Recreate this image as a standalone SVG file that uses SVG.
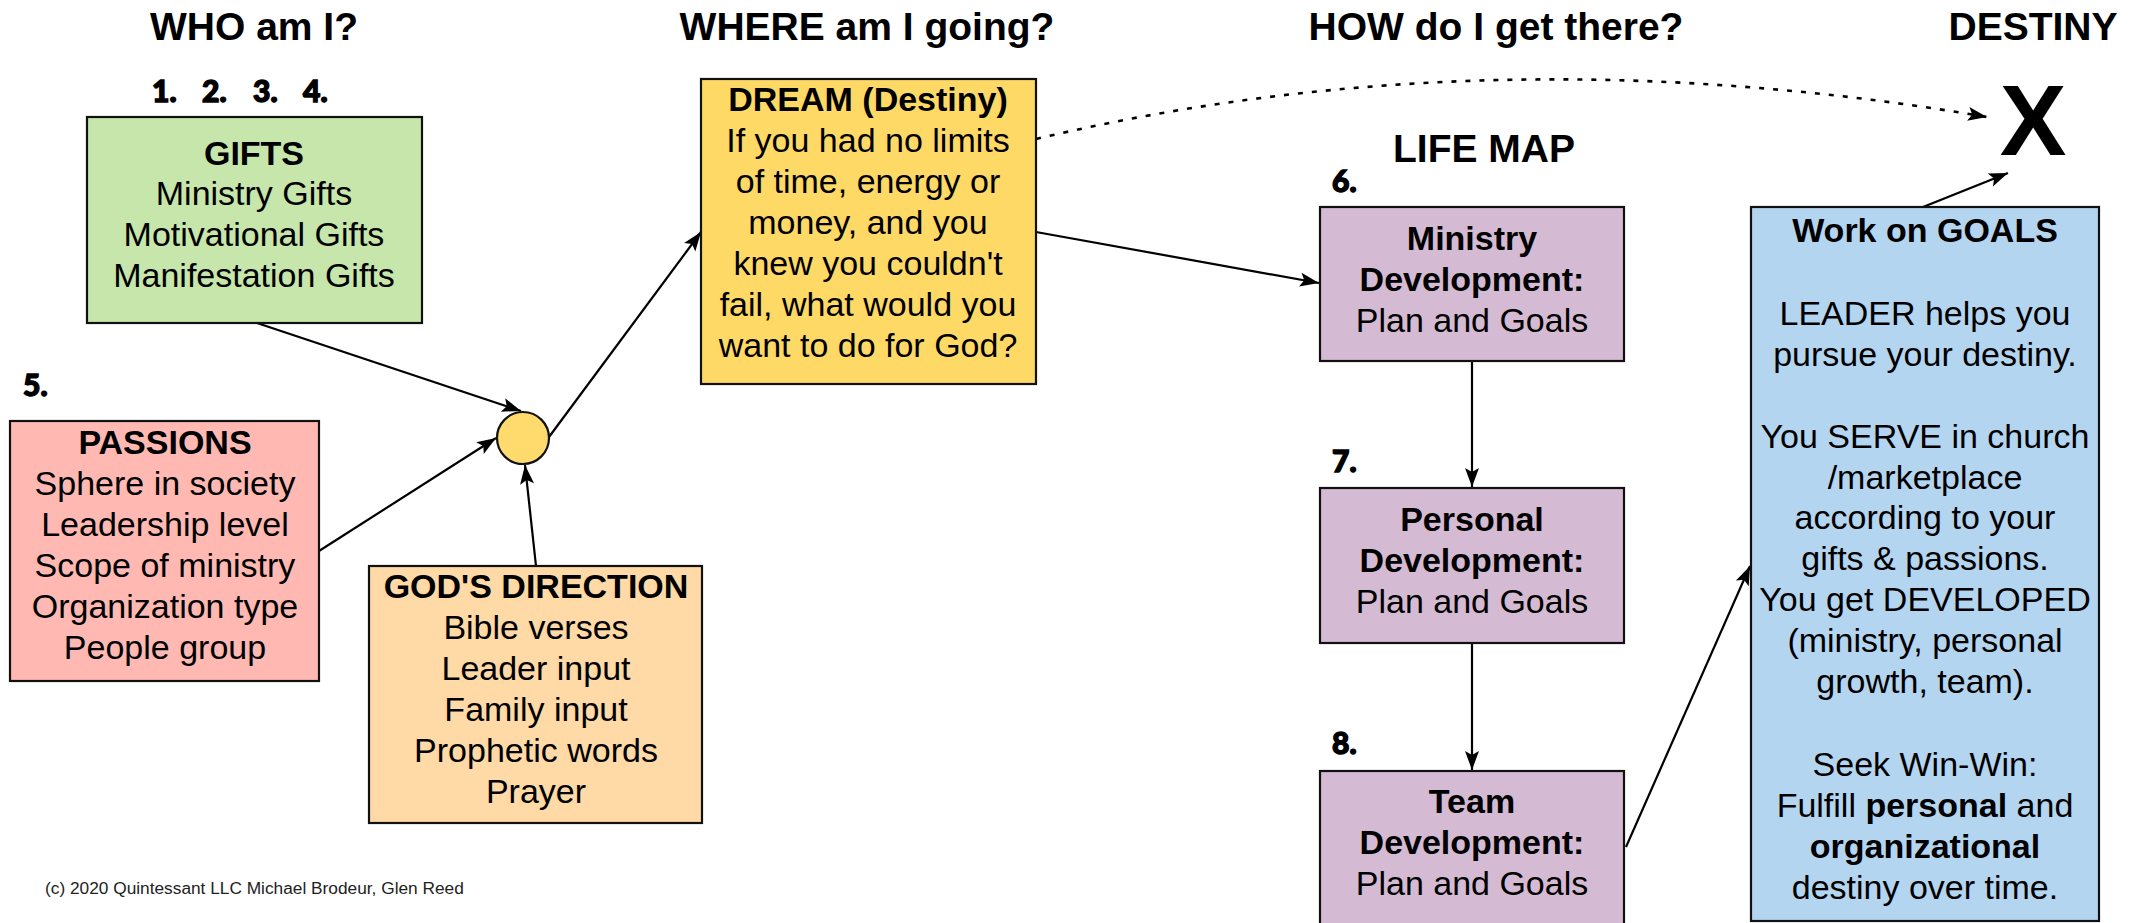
<svg xmlns="http://www.w3.org/2000/svg" width="2141" height="923" viewBox="0 0 2141 923">
<style>
.box{stroke:#111;stroke-width:2.2}
.t{font-family:"Liberation Sans",Arial,sans-serif;font-size:34px;text-anchor:middle;fill:#000}
.b{font-weight:bold}
.title{font-family:"Liberation Sans",Arial,sans-serif;font-size:39px;font-weight:bold;text-anchor:middle;fill:#000}
.num{font-family:Lato,"Liberation Sans",sans-serif;font-weight:900;font-size:30px;fill:#000;stroke:#000;stroke-width:1.4}
.edge{fill:none;stroke:#000;stroke-width:2.2;marker-end:url(#arr)}
.dot{stroke-dasharray:5 9;stroke-width:2.6}
.copy{font-family:"Liberation Sans",Arial,sans-serif;font-size:17.3px;fill:#222}
</style>
<defs>
<marker id="arr" markerUnits="userSpaceOnUse" markerWidth="22" markerHeight="16" refX="19" refY="7" orient="auto" overflow="visible">
<path d="M0,0 L19,7 L0,14 L4,7 z" fill="#000"/>
</marker>
</defs>
<rect width="2141" height="923" fill="#fff"/>

<g id="titles">
<text class="title" x="254" y="40">WHO am I?</text>
<text class="title" x="867" y="40">WHERE am I going?</text>
<text class="title" x="1496" y="40">HOW do I get there?</text>
<text class="title" x="2033" y="40">DESTINY</text>
<text class="title" x="1484" y="162">LIFE MAP</text>
<text class="num" y="102"><tspan x="152">1.</tspan><tspan x="202">2.</tspan><tspan x="253">3.</tspan><tspan x="303">4.</tspan></text>
<text class="num" x="23" y="396">5.</text>
<text class="num" x="1332" y="192">6.</text>
<text class="num" x="1332" y="472">7.</text>
<text class="num" x="1332" y="754">8.</text>
</g>

<g id="connectors">
<path class="edge" d="M257,323 L521,411"/>
<path class="edge" d="M319,551 L496,438"/>
<path class="edge" d="M536,566 L525,465"/>
<path class="edge" d="M549,437 L701,232"/>
<path class="edge" d="M1036,232 L1319,283"/>
<path class="edge" d="M1472,361 L1472,487"/>
<path class="edge" d="M1472,643 L1472,770"/>
<path class="edge" d="M1626,847 L1750,566"/>
<path class="edge" d="M1923,207 L2008,173"/>
<path class="edge dot" d="M1036,139 Q1488,32 1987,117"/>
</g>

<g id="gifts">
<rect class="box" x="87" y="117" width="335" height="206" fill="#c6e6ab"/>
<text class="t b" x="254" y="165">GIFTS</text>
<text class="t" x="254" y="205">Ministry Gifts</text>
<text class="t" x="254" y="246">Motivational Gifts</text>
<text class="t" x="254" y="287">Manifestation Gifts</text>
</g>

<g id="passions">
<rect class="box" x="10" y="421" width="309" height="260" fill="#ffb9b2"/>
<text class="t b" x="165" y="454">PASSIONS</text>
<text class="t" x="165" y="495">Sphere in society</text>
<text class="t" x="165" y="536">Leadership level</text>
<text class="t" x="165" y="577">Scope of ministry</text>
<text class="t" x="165" y="618">Organization type</text>
<text class="t" x="165" y="659">People group</text>
</g>

<g id="junction">
<circle class="box" cx="523" cy="438" r="26" fill="#ffdb6e"/>
</g>

<g id="gods-direction">
<rect class="box" x="369" y="566" width="333" height="257" fill="#ffd9a6"/>
<text class="t b" x="536" y="598">GOD'S DIRECTION</text>
<text class="t" x="536" y="639">Bible verses</text>
<text class="t" x="536" y="680">Leader input</text>
<text class="t" x="536" y="721">Family input</text>
<text class="t" x="536" y="762">Prophetic words</text>
<text class="t" x="536" y="803">Prayer</text>
</g>

<g id="dream">
<rect class="box" x="701" y="79" width="335" height="305" fill="#ffd966"/>
<text class="t b" x="868" y="111">DREAM (Destiny)</text>
<text class="t" x="868" y="152">If you had no limits</text>
<text class="t" x="868" y="193">of time, energy or</text>
<text class="t" x="868" y="234">money, and you</text>
<text class="t" x="868" y="275">knew you couldn't</text>
<text class="t" x="868" y="316">fail, what would you</text>
<text class="t" x="868" y="357">want to do for God?</text>
</g>

<g id="ministry-dev">
<rect class="box" x="1320" y="207" width="304" height="154" fill="#d4bbd3"/>
<text class="t b" x="1472" y="250">Ministry</text>
<text class="t b" x="1472" y="291">Development:</text>
<text class="t" x="1472" y="332">Plan and Goals</text>
</g>

<g id="personal-dev">
<rect class="box" x="1320" y="488" width="304" height="155" fill="#d4bbd3"/>
<text class="t b" x="1472" y="531">Personal</text>
<text class="t b" x="1472" y="572">Development:</text>
<text class="t" x="1472" y="613">Plan and Goals</text>
</g>

<g id="team-dev">
<rect class="box" x="1320" y="771" width="304" height="170" fill="#d4bbd3"/>
<text class="t b" x="1472" y="813">Team</text>
<text class="t b" x="1472" y="854">Development:</text>
<text class="t" x="1472" y="895">Plan and Goals</text>
</g>

<g id="goals">
<rect class="box" x="1751" y="207" width="348" height="714" fill="#b4d5f0"/>
<text class="t b" x="1925" y="242">Work on GOALS</text>
<text class="t" x="1925" y="325">LEADER helps you</text>
<text class="t" x="1925" y="366">pursue your destiny.</text>
<text class="t" x="1925" y="448">You SERVE in church</text>
<text class="t" x="1925" y="489">/marketplace</text>
<text class="t" x="1925" y="529">according to your</text>
<text class="t" x="1925" y="570">gifts &amp; passions.</text>
<text class="t" x="1925" y="611">You get DEVELOPED</text>
<text class="t" x="1925" y="652">(ministry, personal</text>
<text class="t" x="1925" y="693">growth, team).</text>
<text class="t" x="1925" y="776">Seek Win-Win:</text>
<text class="t" x="1925" y="817">Fulfill <tspan class="b">personal</tspan> and</text>
<text class="t b" x="1925" y="858">organizational</text>
<text class="t" x="1925" y="899">destiny over time.</text>
</g>

<g id="destiny-x">
<text class="title" x="2033" y="155" style="font-size:100px">X</text>
</g>

<g id="copyright">
<text class="copy" x="45" y="894">(c) 2020 Quintessant LLC Michael Brodeur, Glen Reed</text>
</g>
</svg>
